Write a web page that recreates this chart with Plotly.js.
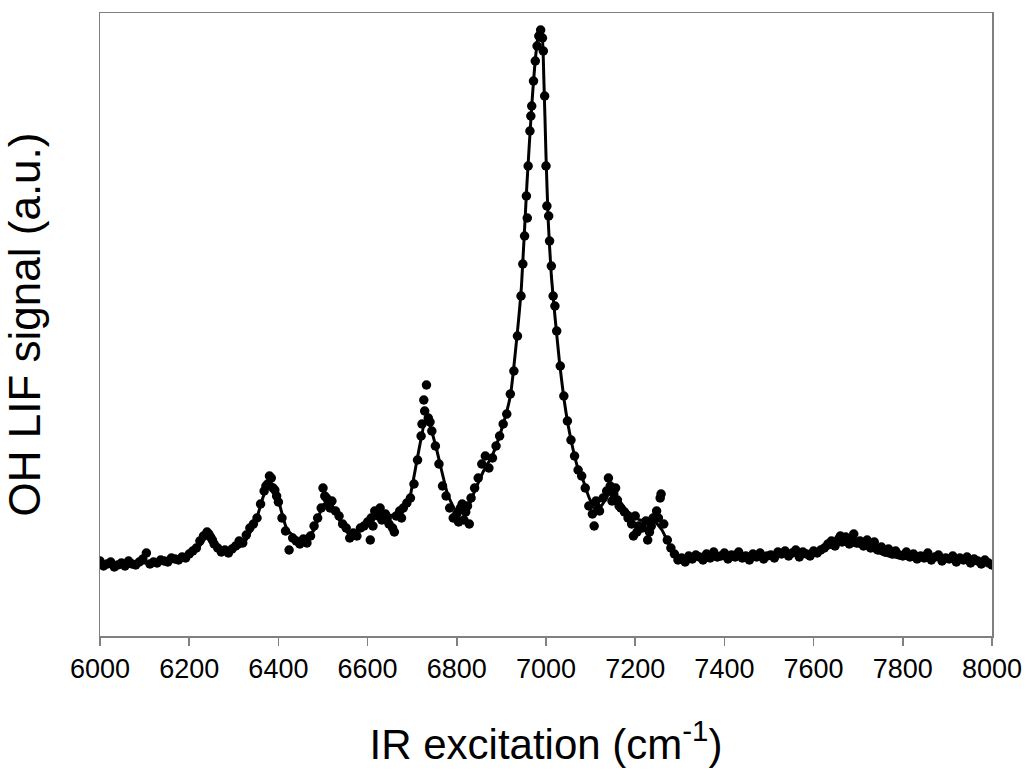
<!DOCTYPE html>
<html>
<head>
<meta charset="utf-8">
<script src="https://cdn.plot.ly/plotly-3.0.1.min.js"></script>
<style>html,body{margin:0;padding:0;background:#fff;}#chart{width:1029px;height:781px;}</style>
</head>
<body>
<div id="chart"></div>
<script>
// Measured data points (wavenumber in cm-1, OH LIF signal in arbitrary units)
const wavenumber = [
  6000,6008,6016,6024,6032,6040,6048,6056,6064,6072,6080,6088,6096,
  6104,6112,6120,6128,6136,6144,6152,6160,6168,6176,6184,6192,6200,
  6208,6216,6224,6232,6240,6248,6256,6264,6272,6280,6288,6296,
  6304,6312,6320,6328,6336,6344,6352,6360,6368,6376,6384,6392,6400,
  6408,6416,6424,6432,6440,6448,6456,6464,6472,6480,6488,6496,
  6504,6512,6520,6528,6536,6544,6552,6560,6568,6576,6584,6592,6600,
  6608,6616,6624,6632,6640,6648,6656,6664,6672,6680,6688,6696,
  6704,6712,6720,6728,6736,6744,6752,6760,6768,6776,6784,6792,6800,
  6808,6816,6824,6832,6840,6848,6856,6864,6872,6880,6888,6896,
  6904,6912,6920,6928,6936,6944,6952,6960,6968,6976,6984,6992,7000,
  7008,7016,7024,7032,7040,7048,7056,7064,7072,7080,7088,7096,
  7104,7112,7120,7128,7136,7144,7152,7160,7168,7176,7184,7192,7200,
  7208,7216,7224,7232,7240,7248,7256,7264,7272,7280,7288,7296,
  7304,7312,7320,7328,7336,7344,7352,7360,7368,7376,7384,7392,7400,
  7408,7416,7424,7432,7440,7448,7456,7464,7472,7480,7488,7496,
  7504,7512,7520,7528,7536,7544,7552,7560,7568,7576,7584,7592,7600,
  7608,7616,7624,7632,7640,7648,7656,7664,7672,7680,7688,7696,
  7704,7712,7720,7728,7736,7744,7752,7760,7768,7776,7784,7792,7800,
  7808,7816,7824,7832,7840,7848,7856,7864,7872,7880,7888,7896,
  7904,7912,7920,7928,7936,7944,7952,7960,7968,7976,7984,7992,8000,
  // additional scan points
  6244,6252,6372,6380,6388,6396,6500,6508,6516,
  6606,6612,6628,6644,6660,6676,6722,6726,6732,6740,
  6804,6812,6820,6828,
  6948,6956,6958,6964,6966,6972,6980,6988,6994,6997,7002,7006,7012,7020,
  7108,7116,7140,7148,7156,7164,7196,7204,7228,7236,7252,7258,
  7660,7672,7690,7720
];
const signal = [
  75,70,72,74,69,71,73,70,75,72,71,74,77,
  83,72,74,73,76,75,74,78,77,76,79,78,82,
  85,88,95,100,104,99,92,88,84,86,83,87,
  90,95,93,101,108,112,118,132,145,152,158,146,134,
  118,105,86,98,95,92,97,93,100,110,118,128,
  140,133,135,125,120,112,108,98,103,100,108,110,114,
  118,125,120,116,122,112,108,120,125,128,133,138,
  152,176,200,225,218,205,190,172,150,140,128,118,122,
  128,116,130,138,148,158,172,180,168,178,190,200,
  212,222,242,265,300,340,400,470,530,575,600,598,470,
  395,340,305,270,240,215,196,180,166,160,148,130,
  122,135,125,138,145,150,142,136,128,124,118,112,120,
  110,108,115,104,118,125,138,112,96,88,82,76,
  78,74,80,77,81,79,76,82,78,84,79,80,83,
  77,81,79,84,78,80,76,82,79,83,77,80,
  81,78,84,82,85,80,83,86,79,84,82,80,85,
  83,86,88,92,95,90,97,94,99,92,96,93,
  95,90,92,88,94,86,89,84,87,82,85,81,80,
  84,79,82,77,80,78,83,76,79,81,75,78,
  77,80,74,78,76,79,73,77,75,72,76,73,71,
  // additional scan points
  102,96,150,160,148,140,148,138,128,
  96,110,128,118,104,118,212,236,251,214,
  114,132,124,112,
  372,440,418,505,520,555,590,606,585,540,430,420,370,330,
  110,128,158,135,148,130,100,104,96,110,118,142,
  100,96,102,96
];
// Fitted curve
const fitWavenumber = [6000,6050,6100,6150,6200,6220,6240,6260,6290,6320,6350,6365,6380,6390,6400,6420,6450,6480,6500,6515,6530,6560,6600,6620,6660,6690,6700,6715,6730,6740,6755,6780,6800,6820,6840,6860,6880,6900,6920,6935,6945,6957,6968,6978,6985,6990,6995,7000,7005,7012,7020,7030,7040,7050,7060,7070,7083,7100,7120,7145,7160,7180,7210,7240,7260,7280,7300,7350,7400,7450,7500,7550,7600,7640,7670,7700,7730,7760,7800,7850,7900,7950,8000];
const fitSignal = [73,73,73,76,81,88,99,91,85,91,116,138,154,150,136,106,96,106,131,133,121,101,111,121,121,131,150,186,216,210,186,141,124,124,145,165,181,206,240,300,350,450,530,585,606,606,560,480,415,360,320,275,238,210,188,170,156,135,128,144,138,126,116,116,106,88,78,78,81,80,80,82,83,89,93,90,86,81,78,77,76,74,72];
const xTicks = [6000,6200,6400,6600,6800,7000,7200,7400,7600,7800,8000];

const font = 'Liberation Sans, Arial, sans-serif';
const traces = [
  {x: wavenumber, y: signal, type: 'scatter', mode: 'markers',
   marker: {color: '#000', size: 9.5}, hoverinfo: 'x+y', showlegend: false},
  {x: fitWavenumber, y: fitSignal, type: 'scatter', mode: 'lines',
   line: {color: '#000', width: 3, shape: 'spline', smoothing: 0.5}, showlegend: false}
];
const layout = {
  width: 1029, height: 781,
  margin: {l: 100, r: 37, t: 13, b: 145},
  paper_bgcolor: '#fff', plot_bgcolor: '#fff',
  showlegend: false,
  font: {family: font, color: '#000'},
  xaxis: {
    range: [6000, 8000], tickvals: xTicks, ticktext: xTicks.map(String),
    showline: true, mirror: true, linecolor: '#808080', linewidth: 1.5,
    ticks: 'outside', ticklen: 8, tickwidth: 1.5, tickcolor: '#808080',
    tickfont: {family: font, size: 27, color: '#000'},
    showgrid: false, zeroline: false,
    title: {text: 'IR excitation (cm<sup>-1</sup>)', font: {family: font, size: 42, color: '#000'}, standoff: 46}
  },
  yaxis: {
    range: [0, 623], showticklabels: false, ticks: '',
    showline: true, mirror: true, linecolor: '#808080', linewidth: 1.5,
    showgrid: false, zeroline: false,
    title: {text: 'OH LIF signal (a.u.)', font: {family: font, size: 44, color: '#000'}, standoff: 46}
  }
};
Plotly.newPlot('chart', traces, layout, {displayModeBar: false, staticPlot: true});
</script>
</body>
</html>
